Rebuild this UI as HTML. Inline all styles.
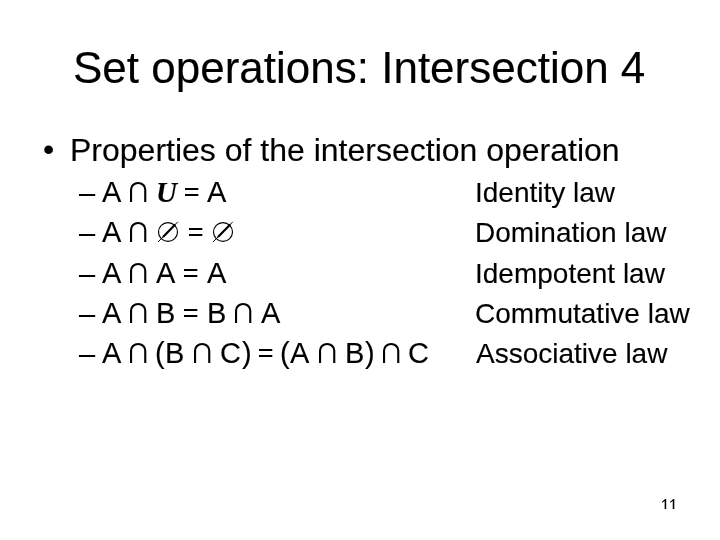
<!DOCTYPE html>
<html><head><meta charset="utf-8">
<style>
html,body{margin:0;padding:0;}
body{width:720px;height:540px;background:#fff;position:relative;overflow:hidden;font-family:"Liberation Sans",sans-serif;color:#000;}
.t{position:absolute;white-space:pre;line-height:1;will-change:transform;-webkit-text-stroke:0.12px #000;}
#title{left:73px;top:45.75px;font-size:44px;}
#bu{left:43px;top:133px;font-size:32px;}
#b1{left:70.1px;top:133.7px;font-size:32px;}
.k{font-size:29px;}
.d{font-size:28px;}
.r{font-size:28px;}
.u{font-family:"Liberation Serif",serif;font-style:italic;font-weight:bold;font-size:29px;}
svg.g{position:absolute;overflow:visible;will-change:transform;}
</style></head><body>
<svg width="0" height="0" style="position:absolute">
<defs>
<g id="cap"><path d="M1.05,20 V7.4 A7.1,6.4 0 0 1 15.25,7.4 V20" fill="none" stroke="#000" stroke-width="2.1"/></g>
<g id="eq"><rect x="0" y="6" width="13.3" height="2"/><rect x="0" y="12" width="13.3" height="2"/></g>
<g id="em"><ellipse cx="10" cy="10" rx="9.5" ry="9.4" fill="none" stroke="#000" stroke-width="1.15"/><path d="M0,20 L19.8,-0.2" stroke="#000" stroke-width="1" fill="none"/><path d="M5,14.9 L17.2,2.5" stroke="#000" stroke-width="2.2" fill="none"/></g>
</defs></svg>
<div class="t" id="title">Set operations: Intersection 4</div>
<div class="t" id="bu">•</div>
<div class="t" id="b1">Properties of the intersection operation</div>

<div class="t k" id="k0_0" style="left:79.00px;top:179.00px">–</div>
<div class="t k" id="k0_1" style="left:102.04px;top:178.00px">A</div>
<svg class="g" id="k0_2" style="left:129.75px;top:182px" width="24" height="24"><use href="#cap"/></svg>
<div class="t u" id="k0_3" style="left:155.84px;top:178.00px">U</div>
<svg class="g" id="k0_4" style="left:184.75px;top:182px" width="24" height="24"><use href="#eq"/></svg>
<div class="t k" id="k0_5" style="left:207.04px;top:178.00px">A</div>
<div class="t k" id="k1_0" style="left:79.00px;top:219.00px">–</div>
<div class="t k" id="k1_1" style="left:102.04px;top:218.00px">A</div>
<svg class="g" id="k1_2" style="left:129.75px;top:222px" width="24" height="24"><use href="#cap"/></svg>
<svg class="g" id="k1_3" style="left:158.10px;top:222px" width="24" height="24"><use href="#em"/></svg>
<svg class="g" id="k1_4" style="left:188.75px;top:222px" width="24" height="24"><use href="#eq"/></svg>
<svg class="g" id="k1_5" style="left:212.90px;top:222px" width="24" height="24"><use href="#em"/></svg>
<div class="t k" id="k2_0" style="left:79.00px;top:260.00px">–</div>
<div class="t k" id="k2_1" style="left:102.04px;top:259.00px">A</div>
<svg class="g" id="k2_2" style="left:129.90px;top:263px" width="24" height="24"><use href="#cap"/></svg>
<div class="t k" id="k2_3" style="left:156.19px;top:259.00px">A</div>
<svg class="g" id="k2_4" style="left:183.75px;top:263px" width="24" height="24"><use href="#eq"/></svg>
<div class="t k" id="k2_5" style="left:207.04px;top:259.00px">A</div>
<div class="t k" id="k3_0" style="left:79.00px;top:300.00px">–</div>
<div class="t k" id="k3_1" style="left:102.04px;top:299.00px">A</div>
<svg class="g" id="k3_2" style="left:129.90px;top:303px" width="24" height="24"><use href="#cap"/></svg>
<div class="t k" id="k3_3" style="left:155.52px;top:299.00px">B</div>
<svg class="g" id="k3_4" style="left:183.80px;top:303px" width="24" height="24"><use href="#eq"/></svg>
<div class="t k" id="k3_5" style="left:206.82px;top:299.00px">B</div>
<svg class="g" id="k3_6" style="left:235.00px;top:303px" width="24" height="24"><use href="#cap"/></svg>
<div class="t k" id="k3_7" style="left:261.24px;top:299.00px">A</div>
<div class="t k" id="k4_0" style="left:79.00px;top:340.00px">–</div>
<div class="t k" id="k4_1" style="left:102.14px;top:339.00px">A</div>
<svg class="g" id="k4_2" style="left:129.75px;top:343px" width="24" height="24"><use href="#cap"/></svg>
<div class="t k" id="k4_3" style="left:155.10px;top:339.00px">(</div>
<div class="t k" id="k4_4" style="left:164.52px;top:339.00px">B</div>
<svg class="g" id="k4_5" style="left:193.75px;top:343px" width="24" height="24"><use href="#cap"/></svg>
<div class="t k" id="k4_6" style="left:219.53px;top:339.00px">C</div>
<div class="t k" id="k4_7" style="left:241.73px;top:339.00px">)</div>
<svg class="g" id="k4_8" style="left:258.75px;top:343px" width="24" height="24"><use href="#eq"/></svg>
<div class="t k" id="k4_9" style="left:280.10px;top:339.00px">(</div>
<div class="t k" id="k4_10" style="left:289.94px;top:339.00px">A</div>
<svg class="g" id="k4_11" style="left:318.75px;top:343px" width="24" height="24"><use href="#cap"/></svg>
<div class="t k" id="k4_12" style="left:344.52px;top:339.00px">B</div>
<div class="t k" id="k4_13" style="left:365.43px;top:339.00px">)</div>
<svg class="g" id="k4_14" style="left:382.80px;top:343px" width="24" height="24"><use href="#cap"/></svg>
<div class="t k" id="k4_15" style="left:408.28px;top:339.00px">C</div>
<div class="t r" id="r0" style="left:475.20px;top:179px">Identity law</div>
<div class="t r" id="r1" style="left:475.20px;top:219px">Domination law</div>
<div class="t r" id="r2" style="left:475.20px;top:260px">Idempotent law</div>
<div class="t r" id="r3" style="left:475.20px;top:300px">Commutative law</div>
<div class="t r" id="r4" style="left:475.90px;top:340px">Associative law</div>
<svg class="g" id="pn" style="left:660px;top:496px" width="20" height="16"><path id="one" d="M4.65,13 V5.0 L2.35,6.8 L1.85,5.9 L5.1,2.9 H6.2 V13 Z"/><use href="#one" x="8.1"/></svg>
</body></html>
